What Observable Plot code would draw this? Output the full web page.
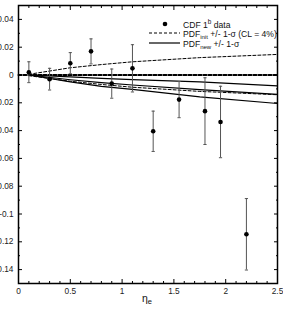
<!DOCTYPE html>
<html><head><meta charset="utf-8">
<script src="https://cdn.jsdelivr.net/npm/d3@7"></script>
<script src="https://cdn.jsdelivr.net/npm/@observablehq/plot@0.6"></script>
<style>body{margin:0;background:#fff} svg{display:block}</style>
</head><body><div id="chart"></div>
<script>
// CDF 1b data points
const eta  = [0.1, 0.3, 0.5, 0.7, 0.9, 1.1, 1.3, 1.55, 1.8, 1.95, 2.2];
const asym = [0.002, -0.003, 0.0085, 0.017, -0.0062, 0.0048, -0.0405, -0.0177, -0.026, -0.0338, -0.1146];
const err  = [0.0075, 0.0078, 0.0076, 0.009, 0.0105, 0.017, 0.0145, 0.013, 0.024, 0.0257, 0.0257];

// PDF curves
const curveX   = [0.1, 0.5, 0.8, 1.1, 1.75, 2.5];
const initUp   = [0.0005, 0.0052, 0.0075, 0.0095, 0.0125, 0.0148];
const initLow  = [-0.0005, -0.0045, -0.0068, -0.0088, -0.0118, -0.0142];
const zeroX    = [0, 2.5];
const zeroY    = [0, 0];
const newUp    = [0, -0.0014, -0.0024, -0.0033, -0.005, -0.0078];
const newMid   = [0, -0.0034, -0.0055, -0.0072, -0.0105, -0.014];
const newLow   = [0, -0.005, -0.0082, -0.0103, -0.0158, -0.0205];

// axes
const xMajor = [0, 0.5, 1, 1.5, 2, 2.5];
const xMajorLabels = ["0", "0.5", "1", "1.5", "2", "2.5"];
const xMinor = [0.1,0.2,0.3,0.4,0.6,0.7,0.8,0.9,1.1,1.2,1.3,1.4,1.6,1.7,1.8,1.9,2.1,2.2,2.3,2.4];
const yMajor = [0.04, 0.02, 0, -0.02, -0.04, -0.06, -0.08, -0.1, -0.12, -0.14];
const yMajorLabels = ["0.04", "0.02", "0", "-0.02", "-0.04", "-0.06", "-0.08", "-0.1", "-0.12", "-0.14"];
const yMinor = [0.05,0.03,0.01,-0.01,-0.03,-0.05,-0.07,-0.09,-0.11,-0.13,-0.15];

const pts = eta.map((x, i) => ({x, y: asym[i], lo: asym[i] - err[i], hi: asym[i] + err[i]}));
const mk = (ys, xs = curveX) => xs.map((x, i) => ({x, y: ys[i]}));

const capSymbol = {draw(ctx, size) { const w = 1.6; ctx.moveTo(-w, 0); ctx.lineTo(w, 0); }};

const xl = new Map(xMajor.map((v, i) => [v, xMajorLabels[i]]));
const yl = new Map(yMajor.map((v, i) => [v, yMajorLabels[i]]));

const svg = Plot.plot({
  width: 283, height: 313,
  marginLeft: 18, marginRight: 6, marginTop: 5, marginBottom: 30,
  style: {fontFamily: "'Liberation Sans', Arial, sans-serif", fontSize: "8.3px", color: "black", background: "white"},
  x: {domain: [0, 2.5]},
  y: {domain: [-0.15, 0.05]},
  marks: [
    // tick marks inward on all sides
    Plot.axisX(xMajor, {anchor: "bottom", tickSize: -4, tickFormat: () => "", label: null}),
    Plot.axisX(xMinor, {anchor: "bottom", tickSize: -2, tickFormat: () => "", label: null}),
    Plot.axisX(xMajor, {anchor: "top", tickSize: -4, tickFormat: () => "", label: null}),
    Plot.axisX(xMinor, {anchor: "top", tickSize: -2, tickFormat: () => "", label: null}),
    Plot.axisY(yMajor, {anchor: "left", tickSize: -4, tickFormat: () => "", label: null}),
    Plot.axisY(yMinor, {anchor: "left", tickSize: -2, tickFormat: () => "", label: null}),
    Plot.axisY(yMajor, {anchor: "right", tickSize: -4, tickFormat: () => "", label: null}),
    Plot.axisY(yMinor, {anchor: "right", tickSize: -2, tickFormat: () => "", label: null}),
    // labels
    Plot.axisX(xMajor, {anchor: "bottom", tickSize: 0, tickPadding: 5, tickFormat: d => xl.get(d), label: null, fill: "#222"}),
    Plot.axisY(yMajor, {anchor: "left", tickSize: 0, tickPadding: 5, tickFormat: d => yl.get(d), label: null, fill: "#222"}),
    // curves
    Plot.line(mk(zeroY, zeroX), {x: "x", y: "y", stroke: "black", strokeWidth: 2, strokeDasharray: "3,2"}),
    Plot.line(mk(initUp), {x: "x", y: "y", stroke: "black", strokeWidth: 1, strokeDasharray: "3,2"}),
    Plot.line(mk(initLow), {x: "x", y: "y", stroke: "black", strokeWidth: 1, strokeDasharray: "3,2"}),
    Plot.line(mk(newUp), {x: "x", y: "y", stroke: "black", strokeWidth: 1.2}),
    Plot.line(mk(newMid), {x: "x", y: "y", stroke: "black", strokeWidth: 1.2}),
    Plot.line(mk(newLow), {x: "x", y: "y", stroke: "black", strokeWidth: 1.2}),
    // error bars
    Plot.ruleX(pts, {x: "x", y1: "lo", y2: "hi", stroke: "#555", strokeWidth: 1}),
    Plot.dot(pts, {x: "x", y: "lo", symbol: capSymbol, stroke: "#555", r: 2, strokeWidth: 1}),
    Plot.dot(pts, {x: "x", y: "hi", symbol: capSymbol, stroke: "#555", r: 2, strokeWidth: 1}),
    Plot.dot(pts, {x: "x", y: "y", r: 2.3, fill: "black", stroke: "none"}),
    Plot.frame({stroke: "black", strokeWidth: 1.5})
  ]
});

// legend + axis title with sub/superscripts
const s = d3.select(svg);
const g = s.append("g").attr("font-family", "'Liberation Sans', Arial, sans-serif").attr("font-size", 8.6).attr("fill", "#111").attr("text-anchor", "start");
g.append("circle").attr("cx", 165).attr("cy", 24).attr("r", 2.3).attr("fill", "black");
const t1 = g.append("text").attr("x", 183).attr("y", 27.5);
t1.append("tspan").text("CDF 1");
t1.append("tspan").attr("dy", -3.5).attr("font-size", 6.3).text("b");
t1.append("tspan").attr("dy", 3.5).text(" data");

g.append("line").attr("x1", 149).attr("x2", 180).attr("y1", 33).attr("y2", 33).attr("stroke", "black").attr("stroke-dasharray", "3,2");
const t2 = g.append("text").attr("x", 183).attr("y", 36.5);
t2.append("tspan").text("PDF");
t2.append("tspan").attr("dy", 2).attr("font-size", 6).text("init");
t2.append("tspan").attr("dy", -2).text(" +/- 1-σ (CL = 4%)");

g.append("line").attr("x1", 149).attr("x2", 180).attr("y1", 43).attr("y2", 43).attr("stroke", "black").attr("stroke-width", 1.2);
const t3 = g.append("text").attr("x", 183).attr("y", 46.5);
t3.append("tspan").text("PDF");
t3.append("tspan").attr("dy", 2).attr("font-size", 6).text("new");
t3.append("tspan").attr("dy", -2).text(" +/- 1-σ");

const t4 = g.append("text").attr("x", 147).attr("y", 302).attr("font-size", 10.5).attr("text-anchor", "middle");
t4.append("tspan").text("η");
t4.append("tspan").attr("dy", 2).attr("font-size", 7.5).text("e");

document.getElementById("chart").appendChild(svg);
</script>
</body></html>
